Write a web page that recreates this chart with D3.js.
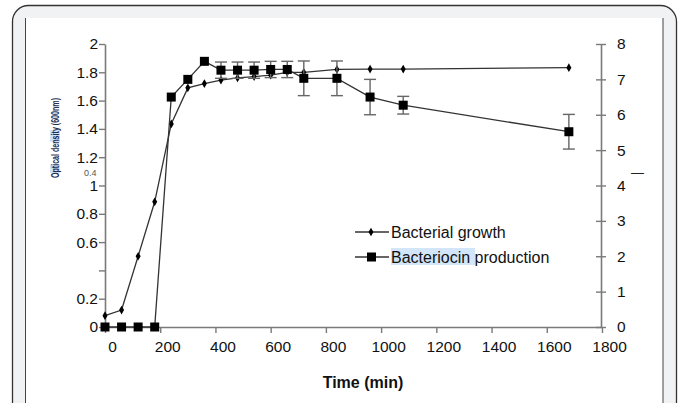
<!DOCTYPE html>
<html>
<head>
<meta charset="utf-8">
<script src="https://cdn.jsdelivr.net/npm/d3@7"></script>
<style>
  body { margin: 0; background: #fff; }
  svg { display: block; font-family: "Liberation Sans", Arial, sans-serif; }
</style>
</head>
<body>
<div id="chart"></div>
<script>
var width = 683;
var height = 403;

// data
var timeMin = [0, 60, 120, 180, 240, 300, 360, 420, 480, 540, 600, 660, 720, 840, 960, 1080, 1680];
var growthOD = [0.08, 0.12, 0.50, 0.885, 1.435, 1.69, 1.72, 1.745, 1.76, 1.77, 1.78, 1.80, 1.80, 1.82, 1.823, 1.823, 1.833];
var bacteriocin = [0, 0, 0, 0, 6.5, 7.0, 7.51, 7.26, 7.26, 7.26, 7.28, 7.28, 7.03, 7.03, 6.5, 6.27, 5.52];
var bacteriocinErr = [0, 0, 0, 0, 0, 0, 0, 0.23, 0.23, 0.23, 0.23, 0.23, 0.49, 0.49, 0.5, 0.25, 0.49];
var xTicks = [0, 200, 400, 600, 800, 1000, 1200, 1400, 1600, 1800];
var yLeftTicks = [0, 0.2, 0.4, 0.6, 0.8, 1, 1.2, 1.4, 1.6, 1.8, 2];
var yRightTicks = [0, 1, 2, 3, 4, 5, 6, 7, 8];
var legendLabels = ["Bacterial growth", "Bacteriocin production"];

var lineColor = "#333";
var axisColor = "#7a7a7a";
var errColor = "#666";

var svg = d3.select("#chart").append("svg")
      .attr("width", width)
      .attr("height", height);

// card frame
svg.append("rect")
      .attr("x", 12.5).attr("y", 5.5)
      .attr("width", 664).attr("height", 430)
      .attr("rx", 16)
      .style("fill", "#f1f2f4")
      .style("stroke", "#333")
      .style("stroke-width", 1.3);
svg.append("rect")
      .attr("x", 25.5).attr("y", 18)
      .attr("width", 637.5).attr("height", 400)
      .style("fill", "#fff");
svg.append("line").attr("x1", 25.5).attr("x2", 25.5).attr("y1", 18).attr("y2", height)
      .style("stroke", "#444");
svg.append("line").attr("x1", 663).attr("x2", 663).attr("y1", 18).attr("y2", height)
      .style("stroke", "#444");

// scales
var xScale = d3.scaleLinear().domain([0, 1800]).range([105, 602]);
var yLeft = d3.scaleLinear().domain([0, 2]).range([327, 44]);
var yRight = d3.scaleLinear().domain([0, 8]).range([327, 44]);

// axes
var xAxis = d3.axisBottom(xScale)
      .tickValues(xTicks)
      .tickSize(6)
      .tickSizeOuter(0)
      .tickPadding(8)
      .tickFormat(d3.format("d"));
var gx = svg.append("g")
      .attr("transform", "translate(0,327)")
      .call(xAxis);
gx.selectAll("text").attr("dx", 7);

var leftAxis = d3.axisLeft(yLeft)
      .tickValues(yLeftTicks)
      .tickSize(6)
      .tickSizeOuter(0)
      .tickPadding(1)
      .tickFormat(d => Math.abs(d - 0.4) < 1e-9 ? "" : d3.format("~g")(d));
var gl = svg.append("g")
      .attr("transform", "translate(105,0)")
      .call(leftAxis);

var rightAxis = d3.axisRight(yRight)
      .tickValues(yRightTicks)
      .tickSize(5)
      .tickSizeOuter(0)
      .tickPadding(11)
      .tickFormat(d3.format("d"));
var gr = svg.append("g")
      .attr("transform", "translate(601,0)")
      .call(rightAxis);
gr.selectAll(".tick line").attr("x1", -5);

[gx, gl, gr].forEach(function(g) {
      g.select(".domain").style("stroke", axisColor).style("stroke-width", 1.6);
      g.selectAll(".tick line").style("stroke", axisColor).style("stroke-width", 1.4);
      g.selectAll("text")
            .style("font-size", "15.5px")
            .style("fill", "#111")
            .style("font-family", "Liberation Sans, Arial, sans-serif");
});

// stray small label and garbled axis titles
svg.append("text")
      .attr("x", 84).attr("y", 175.5)
      .style("font-size", "9px")
      .style("fill", "#555")
      .text("0.4");

var yTitle = svg.append("g").attr("transform", "translate(55,138) rotate(-90)");
yTitle.append("rect")
      .attr("x", -4).attr("y", -5).attr("width", 12).attr("height", 10)
      .style("fill", "#cfe2f6");
yTitle.append("rect")
      .attr("x", -35).attr("y", -5).attr("width", 8).attr("height", 10)
      .style("fill", "#cfe2f6");
yTitle.append("text")
      .attr("x", 0).attr("y", 3.5)
      .attr("text-anchor", "middle")
      .attr("textLength", 80)
      .attr("lengthAdjust", "spacingAndGlyphs")
      .style("font-size", "10px")
      .style("font-weight", "bold")
      .style("fill", "#1f2f55")
      .text("Optical density (600nm)");

svg.append("text")
      .attr("x", 631).attr("y", 177)
      .style("font-size", "13px")
      .style("fill", "#222")
      .text("\u2014");

svg.append("text")
      .attr("x", 363).attr("y", 388)
      .attr("text-anchor", "middle")
      .style("font-size", "16px")
      .style("font-weight", "bold")
      .style("fill", "#111")
      .text("Time (min)");

// build point rows
var growthRows = timeMin.map((t, i) => ({ t: t, v: growthOD[i] }));
var bacRows = timeMin.map((t, i) => ({ t: t, v: bacteriocin[i], e: bacteriocinErr[i] }));

// bacterial growth line
var growthLine = d3.line().x(d => xScale(d.t)).y(d => yLeft(d.v));
svg.append("path")
      .attr("d", growthLine(growthRows))
      .style("fill", "none")
      .style("stroke", lineColor)
      .style("stroke-width", 1.3);
svg.append("g").selectAll("path")
      .data(growthRows)
      .enter().append("path")
      .attr("d", d3.symbol().type(d3.symbolDiamond).size(22))
      .attr("transform", d => "translate(" + xScale(d.t) + "," + yLeft(d.v) + ")")
      .style("fill", "#000");

// error bars
var eb = svg.append("g").selectAll("g")
      .data(bacRows.filter(d => d.e > 0))
      .enter().append("g")
      .style("stroke", errColor)
      .style("stroke-width", 1.4);
eb.append("line")
      .attr("x1", d => xScale(d.t)).attr("x2", d => xScale(d.t))
      .attr("y1", d => yRight(d.v + d.e)).attr("y2", d => yRight(d.v - d.e));
eb.append("line")
      .attr("x1", d => xScale(d.t) - 6).attr("x2", d => xScale(d.t) + 6)
      .attr("y1", d => yRight(d.v + d.e)).attr("y2", d => yRight(d.v + d.e));
eb.append("line")
      .attr("x1", d => xScale(d.t) - 6).attr("x2", d => xScale(d.t) + 6)
      .attr("y1", d => yRight(d.v - d.e)).attr("y2", d => yRight(d.v - d.e));

// bacteriocin line
var bacLine = d3.line().x(d => xScale(d.t)).y(d => yRight(d.v));
svg.append("path")
      .attr("d", bacLine(bacRows))
      .style("fill", "none")
      .style("stroke", lineColor)
      .style("stroke-width", 1.3);
svg.append("g").selectAll("rect")
      .data(bacRows)
      .enter().append("rect")
      .attr("x", d => xScale(d.t) - 4.5)
      .attr("y", d => yRight(d.v) - 4.5)
      .attr("width", 9).attr("height", 9)
      .style("fill", "#000");

// legend
var legend = svg.append("g").attr("transform", "translate(355,232)");
legend.append("line").attr("x1", 0).attr("x2", 34).attr("y1", 0).attr("y2", 0)
      .style("stroke", lineColor).style("stroke-width", 1.3);
legend.append("path")
      .attr("d", d3.symbol().type(d3.symbolDiamond).size(22))
      .attr("transform", "translate(16,0)")
      .style("fill", "#000");
legend.append("text")
      .attr("x", 36).attr("y", 5.5)
      .style("font-size", "16px")
      .style("fill", "#111")
      .text(legendLabels[0]);

legend.append("line").attr("x1", 0).attr("x2", 34).attr("y1", 25).attr("y2", 25)
      .style("stroke", lineColor).style("stroke-width", 1.3);
legend.append("rect")
      .attr("x", 12).attr("y", 20.5).attr("width", 9).attr("height", 9)
      .style("fill", "#000");
legend.append("rect")
      .attr("x", 36).attr("y", 16).attr("width", 84).attr("height", 17)
      .style("fill", "#d3e5f8");
legend.append("text")
      .attr("x", 36).attr("y", 30.5)
      .style("font-size", "16px")
      .style("fill", "#111")
      .text(legendLabels[1]);
</script>
</body>
</html>
